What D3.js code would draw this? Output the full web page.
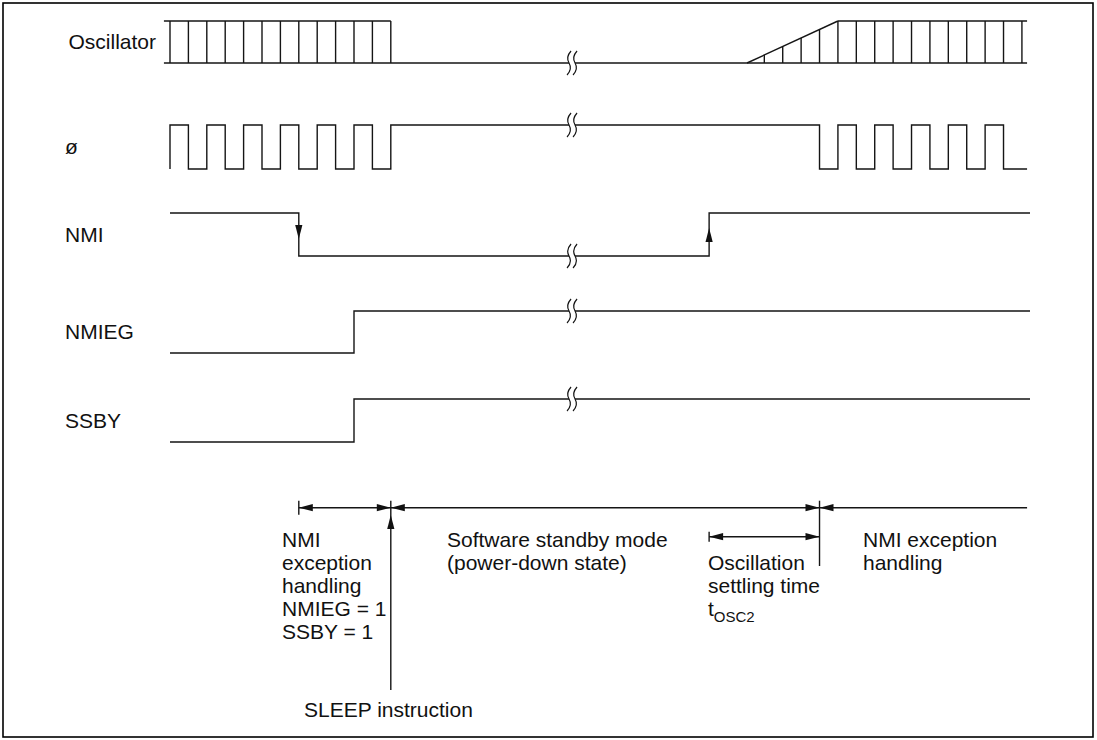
<!DOCTYPE html>
<html>
<head>
<meta charset="utf-8">
<script src="https://cdn.jsdelivr.net/npm/d3@7"></script>
<style>
body { margin: 0; background: #fff; }
text { font-family: "Liberation Sans", Arial, sans-serif; font-size: 21px; fill: #111; }
</style>
</head>
<body>
<svg id="chart" width="1097" height="740"></svg>
<script>
// signal names (top to bottom)
var signals = ["Oscillator", "ø", "NMI", "NMIEG", "SSBY"];

// time axis, unit = half a clock period
var tStart = -0.33, tEnd = 46.74, tEndClk = 46.58, tBreak = 21.85;

// oscillator pulses
var oscTicksLeft = [0, 1, 2, 3, 4, 5, 6, 7, 8, 9, 10, 11, 12];
var oscTicksRight = [32.3, 33.3, 34.3, 35.3, 36.3, 37.3, 38.3, 39.3, 40.3, 41.3, 42.3, 43.3, 44.3, 45.3, 46.3];
var oscRamp = [31.36, 36.3];

// system clock edges (starts low, toggles on every edge)
var phiEdges = [0, 1, 2, 3, 4, 5, 6, 7, 8, 9, 10, 11, 12,
                35.3, 36.3, 37.3, 38.3, 39.3, 40.3, 41.3, 42.3, 43.3, 44.3, 45.3];

var nmiFall = 7, nmiRise = 29.3;
var nmiegRise = 10, ssbyRise = 10;

// phases shown under the waveforms
var sleepAt = 12, wakeAt = 35.3, nmiHandleStart = 7, settleStart = 29.3;

var labelsHandling = ["NMI", "exception", "handling", "NMIEG = 1", "SSBY = 1"];
var labelsStandby = ["Software standby mode", "(power-down state)"];
var labelsSettle = ["Oscillation", "settling time"];
var labelsNmi = ["NMI exception", "handling"];

// layout
var rowY = {"Oscillator": [21, 63], "ø": [125, 169], "NMI": [213, 256], "NMIEG": [311, 353], "SSBY": [399, 442]};
var spanY = 507.7, settleY = 536.7, textRow0 = 547, textRowH = 23;

var svg = d3.select("#chart");
var x = d3.scaleLinear().domain([0, 47]).range([170, 170 + 47 * 18.4]);

var g = svg.append("g")
    .attr("fill", "none")
    .attr("stroke", "#151515")
    .attr("stroke-width", 1.4);

// frame
svg.append("rect")
    .attr("x", 3).attr("y", 3).attr("width", 1090).attr("height", 734)
    .attr("fill", "none").attr("stroke", "#000").attr("stroke-width", 1.6);

var line = d3.line().x(function(d) { return x(d[0]); }).y(function(d) { return d[1]; });

function hline(t0, t1, y) { g.append("line").attr("x1", x(t0)).attr("x2", x(t1)).attr("y1", y).attr("y2", y); }
function vline(t, y0, y1) { g.append("line").attr("x1", x(t)).attr("x2", x(t)).attr("y1", y0).attr("y2", y1); }

function arrowHead(px, py, dir) {
  // filled triangle, tip at (px,py)
  var L = 14, W = 3.6, pts;
  if (dir == "left") pts = [[px, py], [px + L, py - W], [px + L, py + W]];
  if (dir == "right") pts = [[px, py], [px - L, py - W], [px - L, py + W]];
  if (dir == "up") pts = [[px, py], [px - W, py + L], [px + W, py + L]];
  if (dir == "down") pts = [[px, py], [px - W, py - L], [px + W, py - L]];
  svg.append("path").attr("d", "M" + pts.join("L") + "Z").attr("fill", "#111").attr("stroke", "none");
}

// ---- Oscillator
var osc = rowY["Oscillator"];
hline(tStart, oscTicksLeft[oscTicksLeft.length - 1], osc[0]);
hline(tStart, tEndClk, osc[1]);
oscTicksLeft.forEach(function(t) { vline(t, osc[1], osc[0]); });
g.append("path").attr("d", line([[oscRamp[0], osc[1]], [oscRamp[1], osc[0]]]));
hline(oscRamp[1], tEndClk, osc[0]);
oscTicksRight.forEach(function(t) {
  var f = Math.min(1, (t - oscRamp[0]) / (oscRamp[1] - oscRamp[0]));
  vline(t, osc[1], osc[1] + f * (osc[0] - osc[1]));
});

// ---- ø
var phi = rowY["ø"];
var lvl = 1, pts = [[0, phi[lvl]]];
phiEdges.forEach(function(t) {
  pts.push([t, phi[lvl]]);
  lvl = 1 - lvl;
  pts.push([t, phi[lvl]]);
});
pts.push([tEndClk, phi[lvl]]);
g.append("path").attr("d", line(pts));

// ---- NMI
var nmi = rowY["NMI"];
g.append("path").attr("d", line([[0, nmi[0]], [nmiFall, nmi[0]], [nmiFall, nmi[1]],
  [nmiRise, nmi[1]], [nmiRise, nmi[0]], [tEnd, nmi[0]]]));
arrowHead(x(nmiFall), 239, "down");
arrowHead(x(nmiRise), 228, "up");

// ---- NMIEG / SSBY
[["NMIEG", nmiegRise], ["SSBY", ssbyRise]].forEach(function(s) {
  var r = rowY[s[0]];
  g.append("path").attr("d", line([[0, r[1]], [s[1], r[1]], [s[1], r[0]], [tEnd, r[0]]]));
});

// break marks
var breakLevels = [osc[1], phi[0], nmi[1], rowY["NMIEG"][0], rowY["SSBY"][0]];
breakLevels.forEach(function(y) {
  var bx = x(tBreak);
  svg.append("rect").attr("x", bx - 3).attr("y", y - 2).attr("width", 6).attr("height", 4).attr("fill", "#fff");
  [bx - 3, bx + 3].forEach(function(cx) {
    svg.append("path")
      .attr("d", "M" + (cx + 2) + "," + (y - 12) + "Q" + (cx - 3.5) + "," + (y - 6) + " " + cx + "," + y +
                 "Q" + (cx + 3.5) + "," + (y + 6) + " " + (cx - 2) + "," + (y + 12))
      .attr("fill", "none").attr("stroke", "#151515").attr("stroke-width", 1.2);
  });
});

// signal labels
signals.forEach(function(s) {
  var r = rowY[s];
  var t = svg.append("text").attr("y", (r[0] + r[1]) / 2 + 7).text(s);
  if (s == "Oscillator") t.attr("x", 156).attr("text-anchor", "end");
  else t.attr("x", 65);
});

// ---- phase arrows
vline(nmiHandleStart, spanY - 7, spanY + 7);
hline(nmiHandleStart, sleepAt, spanY);
arrowHead(x(nmiHandleStart), spanY, "left");
arrowHead(x(sleepAt), spanY, "right");

vline(sleepAt, spanY - 7, 690);
arrowHead(x(sleepAt), 515, "up");
hline(sleepAt, wakeAt, spanY);
arrowHead(x(sleepAt), spanY, "left");
arrowHead(x(wakeAt), spanY, "right");

vline(wakeAt, spanY - 7, 566);
hline(wakeAt, tEndClk, spanY);
arrowHead(x(wakeAt), spanY, "left");

vline(settleStart, settleY - 5, settleY + 5);
hline(settleStart, wakeAt, settleY);
arrowHead(x(settleStart), settleY, "left");
arrowHead(x(wakeAt), settleY, "right");

// ---- texts
function block(lines, px, row) {
  lines.forEach(function(s, i) {
    svg.append("text").attr("x", px).attr("y", textRow0 + (row + i) * textRowH).text(s);
  });
}
block(labelsHandling, 282, 0);
block(labelsStandby, 447, 0);
block(labelsSettle, 708, 1);
block(labelsNmi, 863, 0);

var tosc = svg.append("text").attr("x", 708).attr("y", textRow0 + 3 * textRowH);
tosc.append("tspan").text("t");
tosc.append("tspan").attr("dy", 6).style("font-size", "15px").text("OSC2");

svg.append("text").attr("x", 304).attr("y", 717).text("SLEEP instruction");
</script>
</body>
</html>
